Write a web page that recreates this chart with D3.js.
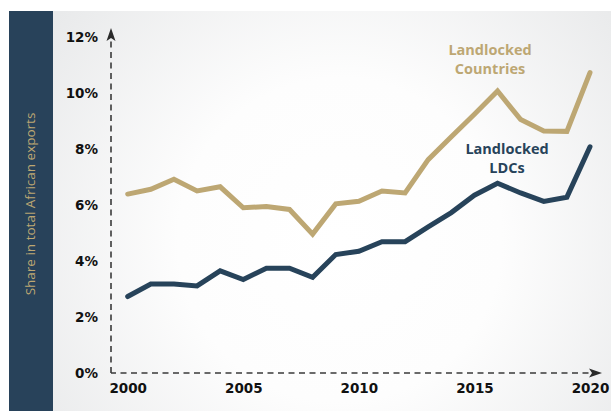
<!DOCTYPE html>
<html>
<head>
<meta charset="utf-8">
<script src="https://cdn.jsdelivr.net/npm/d3@7/dist/d3.min.js"></script>
<style>
  html, body { margin: 0; padding: 0; background: #fff; }
  svg { display: block; }
</style>
</head>
<body>
<script>
// Share of landlocked groups in total African exports, 2000-2020 (%)
const years = d3.range(2000, 2021);
const landlockedCountries = [6.39, 6.56, 6.92, 6.5, 6.65, 5.9, 5.95, 5.84, 4.96, 6.04, 6.13, 6.5, 6.43, 7.62, 8.44, 9.24, 10.07, 9.05, 8.64, 8.63, 10.73];
const landlockedLDCs      = [2.73, 3.18, 3.18, 3.11, 3.65, 3.34, 3.74, 3.74, 3.42, 4.23, 4.35, 4.69, 4.69, 5.22, 5.73, 6.35, 6.78, 6.43, 6.13, 6.28, 8.08];
const yTicks = [0, 2, 4, 6, 8, 10, 12];
const xTicks = [2000, 2005, 2010, 2015, 2020];
const seriesNames = ["Landlocked Countries", "Landlocked LDCs"];

const W = 611, H = 411;
const gold = "#bda773", navy = "#27435a";

const svg = d3.select("body").append("svg").attr("width", W).attr("height", H);
const defs = svg.append("defs");

const grad = defs.append("radialGradient").attr("id", "panelBg")
  .attr("gradientUnits", "userSpaceOnUse")
  .attr("cx", 340).attr("cy", 240).attr("r", 360);
grad.append("stop").attr("offset", "0%").attr("stop-color", "#ffffff");
grad.append("stop").attr("offset", "45%").attr("stop-color", "#fdfdfd");
grad.append("stop").attr("offset", "100%").attr("stop-color", "#e9eaeb");

// panel and side band
svg.append("rect").attr("x", 53).attr("y", 11).attr("width", W - 53).attr("height", H - 11).attr("fill", "url(#panelBg)");
svg.append("rect").attr("x", 9).attr("y", 11).attr("width", 44).attr("height", H - 11).attr("fill", "#28425a");

svg.append("text")
  .attr("transform", "translate(35,204) rotate(-90)")
  .attr("text-anchor", "middle")
  .attr("font-family", "'Open Sans', sans-serif")
  .attr("font-size", 13.5)
  .attr("fill", gold)
  .text("Share in total African exports");

const x = d3.scaleLinear().domain([2000, 2020]).range([127.7, 590]);
const y = d3.scaleLinear().domain([0, 12]).range([373, 37]);

const axisX0 = 111, axisY0 = 373;

// dashed axes with arrowheads
const axisG = svg.append("g");
axisG.append("line")
  .attr("x1", axisX0).attr("y1", axisY0).attr("x2", axisX0).attr("y2", 36)
  .attr("stroke", "#3a3a3a").attr("stroke-width", 1.6).attr("stroke-dasharray", "6,4.5");
axisG.append("line")
  .attr("x1", axisX0).attr("y1", axisY0).attr("x2", 596).attr("y2", axisY0)
  .attr("stroke", "#3a3a3a").attr("stroke-width", 1.6).attr("stroke-dasharray", "6,4.5").attr("stroke-dashoffset", 1);
axisG.append("path")
  .attr("d", `M${axisX0},28 L${axisX0 + 4.5},41 L${axisX0},38 L${axisX0 - 4.5},41 Z`)
  .attr("fill", "#2a2a2a");
axisG.append("path")
  .attr("d", `M602,${axisY0} L589,${axisY0 - 4.5} L592,${axisY0} L589,${axisY0 + 4.5} Z`)
  .attr("fill", "#2a2a2a");

// tick labels
const yAxis = svg.append("g").attr("transform", "translate(98,0)")
  .call(d3.axisLeft(y).tickValues(yTicks).tickSize(0).tickPadding(0).tickFormat(d => d + "%"));
yAxis.select(".domain").remove();
yAxis.selectAll("text")
  .attr("font-family", "'DejaVu Sans', Verdana, sans-serif")
  .attr("font-weight", "bold").attr("font-size", 13.5).attr("fill", "#111");

const xAxis = svg.append("g").attr("transform", "translate(0,383)")
  .call(d3.axisBottom(x).tickValues(xTicks).tickSize(0).tickPadding(0).tickFormat(d3.format("d")));
xAxis.select(".domain").remove();
xAxis.selectAll("text")
  .attr("font-family", "'DejaVu Sans', Verdana, sans-serif")
  .attr("font-weight", "bold").attr("font-size", 13.5).attr("fill", "#111");

// series lines
const line = d3.line().x((d, i) => x(years[i])).y(d => y(d));
[[landlockedCountries, gold], [landlockedLDCs, navy]].forEach(([vals, col]) => {
  svg.append("path").datum(vals)
    .attr("d", line)
    .attr("fill", "none").attr("stroke", col).attr("stroke-width", 5)
    .attr("stroke-linejoin", "miter").attr("stroke-miterlimit", 3).attr("stroke-linecap", "round");
});

// series labels
function label(name, cx, cy, col) {
  const words = name.split(" ");
  const t = svg.append("text").attr("text-anchor", "middle")
    .attr("font-family", "'Open Sans', sans-serif").attr("font-weight", "bold")
    .attr("font-size", 14.5).attr("fill", col);
  words.forEach((w, i) => t.append("tspan").attr("x", cx).attr("y", cy + i * 19).text(w));
}
label(seriesNames[0], 490, 55, gold);
label(seriesNames[1], 507, 154, navy);
</script>
</body>
</html>
